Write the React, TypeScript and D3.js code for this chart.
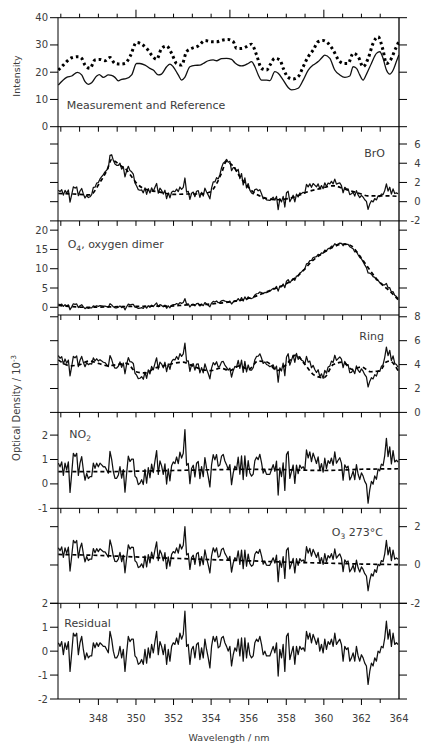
import React from "react";
import * as d3 from "d3";

// ---------- DATA ----------
const WL_MIN = 345.85;
const WL_MAX = 364;
const RES_START = 345.87;
const RES_END = 363.95;

// fit residual (10^-3), evenly sampled from RES_START to RES_END
const residual = [
  0.35, 0.2, 0.4, -0.15, 0.35, 0.07, 0.4, -0.85, -0.07, 0.75,
  0.62, 0.75, -0.15, 0.35, 0.62, 0.07, -0.35, -0.07, -0.28, -0.2,
  -0.2, 0.35, 0.14, 0.35, 0.2, 0.35, 0.28, 0.2, 0.2, 0.07,
  -0.07, 0.83, 0.5, 0, -0.28, -0.28, -0.15, 0.2, -0.28, 0.07,
  -0.85, -0.07, 0.62, 0.4, 0.5, 0.5, -0.2, -0.28, -0.55, -0.5,
  -0.35, -0.55, 0.07, -0.5, 0.14, -0.28, 0.28, -0.07, 0.4, 0.83,
  -0.15, 0.4, 0.2, -0.15, 0.28, -0.55, 0.07, -0.42, 0.2, 0.35,
  0.28, 0.55, 0.28, 0.75, 0.5, 0.7, 1.67, 0.2, 0.28, -0.55,
  0.07, 0.2, -0.28, 0.28, 0.35, -0.35, 0.14, -0.28, 0.5, 0.07,
  -0.28, -0.7, 0.2, 0.62, 0.4, 0.62, 0.14, 0.2, 0.55, 0.62,
  0.35, 0.2, 0, 0.2,
  -0.62, -0.15, 0.14, 0, 0.5, -0.2, 0.55, -0.42, 0.55, -0.28,
  0.35, -0.15, -0.28, -0.2, 0.35, 0.5, 0.4, 0.62, 0.28, -0.15,
  0, -0.2, -0.2, -0.2, 0, 0.2, -0.07, 0.35, -1.04, 0.07,
  -0.28, 0.28, -0.85, 0.62, 0.75, -0.35, -0.07, 0.2, -0.55, 0.2,
  -0.15, 0.2, 0.07, 0.14, 0, 0.83, 0.5, 0.75, 0.35, 0.7,
  0.5, 0.28, 0.55, 0, 0.28, -0.07, 0.5, 0.07, 0.4, 0.28,
  0.5, 0.2, 0.75, 0.28, 0.4, 0.5, 0.28, -0.42, 0.2, 0.07,
  0.14, -0.42, -0.28, -0.07, -0.42, 0.2, -0.2, -0.42, -0.15, -0.28,
  -0.5, -0.62, -1.39, -0.85, -0.5, -0.62, -0.28, -0.42, 0, -0.07,
  0.2, 0.14, 0.55, 1.25, 0.5, 0.9, 0.2, 0.75, 0.28, 0.35,
  0.28,
];

const broFitWl = [345.87, 346.66, 347.55, 348.08, 348.44, 348.71, 348.88, 349.15, 349.5, 349.77, 350.04, 350.57, 351.28, 351.98, 352.7, 353.4, 353.94, 354.3, 354.56, 354.82, 355.0, 355.17, 355.53, 355.89, 356.24, 356.77, 357.48, 358.19, 358.72, 359.25, 359.79, 360.49, 361.2, 361.91, 362.35, 362.98, 363.5, 363.95];
const broFit = [0.85, 0.8, 0.7, 2.0, 3.2, 4.4, 4.2, 3.8, 3.3, 2.6, 1.9, 1.25, 1.0, 0.75, 0.8, 0.8, 1.0, 1.9, 3.0, 4.2, 4.0, 3.7, 2.6, 1.7, 1.0, 0.45, 0.2, 0.35, 0.7, 1.1, 1.35, 1.65, 1.25, 0.85, 0.6, 0.6, 0.6, 0.55];

const o4FitWl = [345.87, 346.5, 347.3, 348.5, 350.0, 351.8, 352.7, 353.6, 354.5, 355.3, 356.2, 357.1, 358.0, 358.5, 358.9, 359.4, 359.9, 360.5, 361.0, 361.4, 361.9, 362.5, 363.0, 363.5, 363.95];
const o4Fit = [0.5, 0.2, 0.0, 0.1, 0.25, 0.3, 0.6, 0.7, 1.1, 1.6, 2.6, 4.3, 6.1, 7.7, 9.5, 12.1, 13.9, 15.6, 16.4, 16.1, 13.4, 9.3, 6.3, 4.2, 2.0];

const ringFitWl = [345.87, 346.5, 347.0, 347.5, 348.0, 348.5, 349.0, 349.5, 350.0, 350.5, 351.0, 351.5, 352.0, 352.5, 353.0, 353.5, 354.0, 354.5, 355.0, 355.5, 356.0, 356.5, 357.0, 357.5, 358.0, 358.5, 359.0, 359.5, 360.0, 360.5, 361.0, 361.5, 362.0, 362.5, 363.0, 363.3, 363.5, 363.95];
const ringFit = [4.4, 3.9, 4.0, 4.3, 4.1, 3.9, 4.0, 4.1, 3.4, 3.3, 3.7, 3.9, 4.1, 4.2, 3.9, 3.6, 3.5, 3.7, 3.5, 3.9, 3.6, 4.3, 4.2, 3.5, 4.0, 4.8, 4.0, 3.1, 2.9, 4.0, 4.2, 3.6, 3.8, 3.4, 3.5, 4.2, 4.3, 3.5];

const no2FitWl = [345.87, 348, 350, 352, 354, 356, 358, 360, 362, 363.95];
const no2Fit = [0.5, 0.5, 0.52, 0.55, 0.58, 0.6, 0.58, 0.55, 0.6, 0.62];

const o3FitWl = [345.87, 348, 350, 352, 354, 356, 358, 360, 362, 363.95];
const o3Fit = [0.55, 0.5, 0.42, 0.35, 0.28, 0.22, 0.15, 0.1, 0.05, 0.02];

const measWl = [345.87, 346.31, 346.58, 346.88, 347.11, 347.29, 347.46, 347.64, 347.91, 348.05, 348.26, 348.53, 348.7, 348.88, 349.06, 349.24, 349.47, 349.77, 350.03, 350.21, 350.48, 350.74, 350.92, 351.19, 351.36, 351.63, 351.81, 351.98, 352.25, 352.43, 352.6, 352.87, 353.14, 353.4, 353.58, 353.85, 354.11, 354.29, 354.56, 354.82, 355.09, 355.26, 355.44, 355.62, 355.8, 355.97, 356.15, 356.33, 356.51, 356.68, 356.95, 357.13, 357.39, 357.57, 357.84, 358.1, 358.28, 358.63, 358.9, 359.17, 359.43, 359.7, 359.87, 360.05, 360.32, 360.58, 360.85, 361.12, 361.38, 361.56, 361.74, 361.91, 362.09, 362.27, 362.53, 362.8, 362.98, 363.15, 363.33, 363.51, 363.69, 363.86, 363.99];
const measIntensity = [15.3, 18.1, 18.6, 19.9, 19.0, 16.5, 15.5, 16.1, 18.6, 19.1, 18.1, 19.0, 18.8, 18.1, 16.8, 17.4, 17.6, 19.0, 23.2, 23.2, 22.6, 21.4, 20.8, 19.0, 19.3, 22.0, 23.0, 22.0, 19.0, 17.1, 18.1, 22.0, 22.5, 22.6, 23.2, 24.2, 24.5, 24.2, 25.0, 25.1, 24.7, 23.5, 22.6, 22.3, 22.6, 23.2, 23.9, 22.0, 19.0, 17.1, 17.1, 16.9, 20.2, 19.6, 17.1, 14.4, 13.5, 14.1, 17.1, 20.8, 22.6, 23.9, 25.1, 26.3, 25.1, 20.8, 19.0, 18.1, 18.6, 22.0, 21.4, 19.0, 17.1, 19.3, 23.2, 26.9, 27.5, 25.1, 20.8, 19.3, 20.8, 23.9, 26.3];

const refWl = [345.87, 346.13, 346.31, 346.58, 346.93, 347.11, 347.29, 347.55, 347.82, 348.08, 348.35, 348.62, 348.88, 349.15, 349.41, 349.68, 350.03, 350.3, 350.57, 350.83, 351.1, 351.36, 351.63, 351.9, 352.16, 352.43, 352.69, 352.96, 353.31, 353.67, 354.02, 354.29, 354.64, 354.91, 355.18, 355.35, 355.62, 355.89, 356.15, 356.42, 356.68, 356.95, 357.13, 357.39, 357.66, 357.84, 358.1, 358.37, 358.63, 358.9, 359.17, 359.43, 359.7, 359.96, 360.23, 360.5, 360.76, 361.03, 361.29, 361.56, 361.83, 362.09, 362.36, 362.62, 362.89, 363.15, 363.33, 363.6, 363.78, 363.99];
const refIntensity = [20.8, 22.6, 23.9, 25.3, 25.7, 25.1, 22.6, 21.4, 24.5, 24.7, 24.2, 25.4, 23.2, 23.0, 23.2, 25.7, 30.9, 30.3, 28.7, 26.3, 24.7, 28.7, 29.6, 26.9, 23.2, 22.6, 27.5, 28.7, 29.6, 31.6, 31.2, 31.2, 31.8, 32.0, 31.2, 28.7, 28.7, 29.4, 30.3, 26.3, 21.4, 20.8, 22.6, 25.1, 24.5, 21.4, 18.1, 17.5, 18.3, 22.0, 25.7, 28.1, 31.2, 31.6, 30.6, 28.1, 24.7, 23.2, 23.2, 26.9, 25.7, 22.0, 25.1, 30.6, 33.0, 28.1, 23.2, 25.1, 28.1, 31.2];

const intensityTicks = [0, 10, 20, 30, 40];
const broTicks = [-2, 0, 2, 4, 6];
const o4Ticks = [0, 5, 10, 15, 20];
const ringTicks = [0, 2, 4, 6, 8];
const no2Ticks = [-1, 0, 1, 2];
const o3Ticks = [-2, 0, 2];
const resTicks = [-2, -1, 0, 1, 2];
const xLabelTicks = [348, 350, 352, 354, 356, 358, 360, 362, 364];
const topMajorTicks = [350, 355, 360];

// ---------- LAYOUT ----------
const X0 = 58;
const X1 = 399;
const FONT = "'DejaVu Sans', Verdana, sans-serif";
const TXT = "#3c3c3c";

export default function App() {
  const x = d3.scaleLinear().domain([WL_MIN, WL_MAX]).range([X0, X1]);
  const n = residual.length;
  const resWl = residual.map((_, i) => RES_START + (i * (RES_END - RES_START)) / (n - 1));

  const panels = [
    { id: "bro", top: 126.7, bottom: 220.9, domain: [-2, 7.8], ticks: broTicks, side: "right", fitWl: broFitWl, fit: broFit },
    { id: "o4", top: 220.9, bottom: 315, domain: [-2, 22.4], ticks: o4Ticks, side: "left", fitWl: o4FitWl, fit: o4Fit },
    { id: "ring", top: 315, bottom: 412.4, domain: [0, 8.15], ticks: ringTicks, side: "right", fitWl: ringFitWl, fit: ringFit },
    { id: "no2", top: 412.4, bottom: 508.3, domain: [-1, 2.93], ticks: no2Ticks, side: "left", fitWl: no2FitWl, fit: no2Fit },
    { id: "o3", top: 508.3, bottom: 603.3, domain: [-2, 2.96], ticks: o3Ticks, side: "right", fitWl: o3FitWl, fit: o3Fit },
    { id: "res", top: 603.3, bottom: 699, domain: [-2, 2], ticks: resTicks, side: "left", fitWl: null as number[] | null, fit: null as number[] | null },
  ];

  const TOP = 17.7;
  const BOT = 699;
  const intY = d3.scaleLinear().domain([0, 40]).range([126.7, TOP]);

  const lineMeas = d3
    .line<number>()
    .x((_, i) => x(measWl[i]))
    .y((d) => intY(d))
    .curve(d3.curveMonotoneX);
  const lineRef = d3
    .line<number>()
    .x((_, i) => x(refWl[i]))
    .y((d) => intY(d))
    .curve(d3.curveMonotoneX);

  const minorAll = d3.range(346, 364);
  const boundaries = panels.map((p) => p.top);

  const yTick = (y: number, key: string) => (
    <g key={key}>
      <line x1={X0 - 8} x2={X0} y1={y} y2={y} stroke="#000" strokeWidth={1} />
      <line x1={X1} x2={X1 + 8} y1={y} y2={y} stroke="#000" strokeWidth={1} />
    </g>
  );

  return (
    <svg
      width={422}
      height={743}
      style={{ position: "absolute", left: 0, top: 0, background: "#fff" }}
      fontFamily={FONT}
    >
      <defs>
        <clipPath id="clip-int">
          <rect x={X0} y={TOP} width={X1 - X0} height={126.7 - TOP} />
        </clipPath>
        {panels.map((p) => (
          <clipPath id={`clip-${p.id}`} key={p.id}>
            <rect x={X0} y={p.top} width={X1 - X0} height={p.bottom - p.top} />
          </clipPath>
        ))}
      </defs>

      {/* Intensity panel */}
      <g clipPath="url(#clip-int)">
        <path d={lineMeas(measIntensity) || ""} fill="none" stroke="#111" strokeWidth={1.3} />
        <path
          d={lineRef(refIntensity) || ""}
          fill="none"
          stroke="#000"
          strokeWidth={3}
          strokeDasharray="2.6 3"
        />
      </g>
      {intensityTicks.map((t) => yTick(intY(t), `it${t}`))}
      {intensityTicks.map((t) => (
        <text key={`itl${t}`} x={48} y={intY(t)} dy="0.35em" textAnchor="end" fontSize={10} fill={TXT}>
          {t}
        </text>
      ))}
      <text x={66.7} y={109} fontSize={11} fill={TXT}>
        Measurement and Reference
      </text>

      {/* Spectral panels */}
      {panels.map((p) => {
        const y = d3.scaleLinear().domain(p.domain).range([p.bottom, p.top]);
        const fitScale = p.fitWl && p.fit ? d3.scaleLinear().domain(p.fitWl).range(p.fit) : null;
        const meas = residual.map((r, i) => (fitScale ? fitScale(resWl[i]) : 0) + r);
        const solid = d3
          .line<number>()
          .x((_, i) => x(resWl[i]))
          .y((d) => y(d))(meas);
        const dashed =
          p.fitWl && p.fit
            ? d3
                .line<number>()
                .x((_, i) => x((p.fitWl as number[])[i]))
                .y((d) => y(d))
                .curve(d3.curveMonotoneX)(p.fit)
            : null;
        return (
          <g key={p.id}>
            <g clipPath={`url(#clip-${p.id})`}>
              <path d={solid || ""} fill="none" stroke="#111" strokeWidth={1.25} strokeLinejoin="round" />
              {dashed && (
                <path d={dashed} fill="none" stroke="#000" strokeWidth={1.7} strokeDasharray="4 3" />
              )}
            </g>
            {p.ticks.map((t) => yTick(y(t), `${p.id}t${t}`))}
            {p.ticks.map((t) => (
              <text
                key={`${p.id}l${t}`}
                x={p.side === "left" ? 48 : 420.5}
                y={y(t)}
                dy="0.35em"
                textAnchor="end"
                fontSize={10}
                fill={TXT}
              >
                {t}
              </text>
            ))}
          </g>
        );
      })}

      {/* frame */}
      <line x1={X0} x2={X0} y1={TOP} y2={BOT} stroke="#000" strokeWidth={1} />
      <line x1={X1} x2={X1} y1={TOP} y2={BOT} stroke="#000" strokeWidth={1.3} />
      <line x1={X0} x2={X1} y1={TOP} y2={TOP} stroke="#000" strokeWidth={1} />
      <line x1={X0} x2={X1} y1={BOT} y2={BOT} stroke="#000" strokeWidth={1} />
      {[126.7, ...boundaries.slice(1)].map((b, i) => (
        <line key={`b${i}`} x1={X0} x2={X1} y1={b} y2={b} stroke="#000" strokeWidth={1} />
      ))}

      {/* top x ticks (outward) */}
      {minorAll.map((t) => (
        <line
          key={`tt${t}`}
          x1={x(t)}
          x2={x(t)}
          y1={TOP}
          y2={TOP - (topMajorTicks.includes(t) ? 8 : 4)}
          stroke="#000"
          strokeWidth={1}
        />
      ))}
      {/* interior boundary ticks */}
      {boundaries.map((b, bi) =>
        minorAll.map((t) => (
          <line key={`bt${bi}-${t}`} x1={x(t)} x2={x(t)} y1={b} y2={b + 5} stroke="#000" strokeWidth={1} />
        ))
      )}
      {/* bottom ticks */}
      {d3.range(347, 364).map((t) => (
        <line
          key={`bb${t}`}
          x1={x(t)}
          x2={x(t)}
          y1={BOT}
          y2={BOT + (t % 2 === 0 ? 6 : 4)}
          stroke="#000"
          strokeWidth={1}
        />
      ))}
      {xLabelTicks.map((t) => (
        <text key={`xl${t}`} x={x(t)} y={722} textAnchor="middle" fontSize={10} fill={TXT}>
          {t}
        </text>
      ))}
      <text x={229} y={741} textAnchor="middle" fontSize={9.5} fill={TXT}>
        Wavelength / nm
      </text>

      {/* axis titles */}
      <text transform="translate(20,76) rotate(-90)" textAnchor="middle" fontSize={9.5} fill={TXT}>
        Intensity
      </text>
      <text transform="translate(20,408) rotate(-90)" textAnchor="middle" fontSize={10} fill={TXT}>
        Optical Density / 10
        <tspan dy={-4} fontSize={7}>
          -3
        </tspan>
      </text>

      {/* panel labels */}
      <text x={385} y={157} textAnchor="end" fontSize={11} fill={TXT}>
        BrO
      </text>
      <text x={67.7} y={248} fontSize={11} fill={TXT}>
        O<tspan dy={3} fontSize={7.5}>4</tspan>
        <tspan dy={-3}>, oxygen dimer</tspan>
      </text>
      <text x={384} y={340} textAnchor="end" fontSize={11} fill={TXT}>
        Ring
      </text>
      <text x={69.3} y={438} fontSize={11} fill={TXT}>
        NO<tspan dy={3} fontSize={7.5}>2</tspan>
      </text>
      <text x={383} y={536} textAnchor="end" fontSize={11} fill={TXT}>
        O<tspan dy={3} fontSize={7.5}>3</tspan>
        <tspan dy={-3}> 273°C</tspan>
      </text>
      <text x={64.3} y={627} fontSize={11} fill={TXT}>
        Residual
      </text>
    </svg>
  );
}
